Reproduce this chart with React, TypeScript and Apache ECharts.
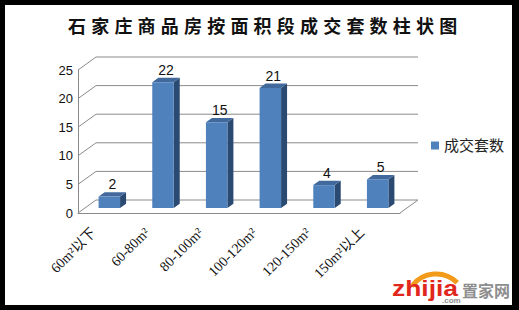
import React, { useEffect, useRef } from "react";
import * as echarts from "echarts";

const titleText = "石家庄商品房按面积段成交套数柱状图";
const seriesName = "成交套数";
const categories = ["60m²以下", "60-80m²", "80-100m²", "100-120m²", "120-150m²", "150m²以上"];
const counts = [2, 22, 15, 21, 4, 5];
const yTicks = [0, 5, 10, 15, 20, 25];

// oblique depth of the 3D plot box (front plane -> back wall)
const DEPTH_X = 18;
const DEPTH_Y = -13;
// column placement inside the depth
const COL_OFF_X = 4.5;
const COL_OFF_Y = -5;
const COL_DEPTH_X = 6;
const COL_DEPTH_Y = -4.3;

const FRONT = "#4F81BD";
const SIDE = "#2B4A72";
const TOP = "#41699C";
const GRIDLINE = "#8A8A8A";

export default function App() {
  const ref = useRef<HTMLDivElement>(null);

  useEffect(() => {
    document.body.style.margin = "0";
    if (!ref.current) return;
    const chart = echarts.init(ref.current, null, { renderer: "svg" });

    const option: any = {
      animation: false,
      backgroundColor: "#ffffff",
      title: {
        text: titleText,
        left: 63,
        top: 13,
        textStyle: {
          fontFamily: "'Liberation Serif', 'Noto Sans CJK SC', serif",
          fontSize: 18,
          fontWeight: "bold",
          color: "#111",
        },
      },
      legend: {
        data: [seriesName],
        left: 426,
        top: 133,
        icon: "rect",
        itemWidth: 8,
        itemHeight: 8,
        textStyle: {
          fontFamily: "'Liberation Serif', 'Noto Sans CJK SC', serif",
          fontSize: 15,
          color: "#222",
        },
      },
      grid: { left: 78, top: 70, width: 322, height: 143 },
      xAxis: {
        type: "category",
        data: categories,
        boundaryGap: true,
        axisLine: { show: true, lineStyle: { color: GRIDLINE, width: 1 } },
        axisTick: { show: false },
        splitLine: { show: false },
        axisLabel: {
          rotate: 45,
          margin: 6,
          padding: [0, 16, 0, 0],
          interval: 0,
          fontFamily: "'Liberation Serif', 'Noto Sans CJK SC', serif",
          fontSize: 14,
          color: "#111",
        },
      },
      yAxis: {
        type: "value",
        min: 0,
        max: 25,
        interval: 5,
        axisLine: { show: true, lineStyle: { color: GRIDLINE, width: 1 } },
        axisTick: { show: false },
        splitLine: { show: false },
        axisLabel: {
          margin: 5,
          fontFamily: "'Liberation Sans', Arial, sans-serif",
          fontSize: 13,
          color: "#111",
        },
      },
      series: [
        {
          type: "custom",
          name: "walls",
          silent: true,
          z: 1,
          data: yTicks.map((v) => [0, v]),
          renderItem: (params: any, api: any) => {
            const v = api.value(1);
            const y = api.coord([0, v])[1];
            const cs = params.coordSys;
            const x0 = cs.x;
            const x1 = cs.x + cs.width;
            const children: any[] = [
              {
                type: "polyline",
                shape: {
                  points: [
                    [x0, y],
                    [x0 + DEPTH_X, y + DEPTH_Y],
                    [x1 + DEPTH_X, y + DEPTH_Y],
                  ],
                },
                style: { stroke: GRIDLINE, lineWidth: 1, fill: "none" },
              },
            ];
            if (v === 0) {
              children.push({
                type: "line",
                shape: { x1: x1, y1: y, x2: x1 + DEPTH_X, y2: y + DEPTH_Y },
                style: { stroke: GRIDLINE, lineWidth: 1 },
              });
            }
            return { type: "group", children };
          },
        },
        {
          type: "custom",
          name: seriesName,
          z: 3,
          itemStyle: { color: FRONT },
          data: counts.map((v, i) => [i, v]),
          encode: { x: 0, y: 1 },
          renderItem: (params: any, api: any) => {
            const i = api.value(0);
            const v = api.value(1);
            const top = api.coord([i, v]);
            const base = api.coord([i, 0]);
            const band = api.size([1, 0])[0];
            const w = band * 0.4;
            const xl = top[0] - w / 2 + COL_OFF_X;
            const xr = xl + w;
            const yt = top[1] + COL_OFF_Y;
            const yb = base[1] + COL_OFF_Y;
            return {
              type: "group",
              children: [
                {
                  type: "polygon",
                  shape: {
                    points: [
                      [xr, yt],
                      [xr + COL_DEPTH_X, yt + COL_DEPTH_Y],
                      [xr + COL_DEPTH_X, yb + COL_DEPTH_Y],
                      [xr, yb],
                    ],
                  },
                  style: { fill: SIDE },
                },
                {
                  type: "polygon",
                  shape: {
                    points: [
                      [xl, yt],
                      [xl + COL_DEPTH_X, yt + COL_DEPTH_Y],
                      [xr + COL_DEPTH_X, yt + COL_DEPTH_Y],
                      [xr, yt],
                    ],
                  },
                  style: { fill: TOP },
                },
                {
                  type: "rect",
                  shape: { x: xl, y: yt, width: w, height: yb - yt },
                  style: { fill: FRONT },
                },
                {
                  type: "text",
                  x: (xl + xr) / 2 + COL_DEPTH_X / 2,
                  y: yt + COL_DEPTH_Y - 1,
                  style: {
                    text: String(v),
                    align: "center",
                    verticalAlign: "bottom",
                    fontFamily: "'Liberation Sans', Arial, sans-serif",
                    fontSize: 14,
                    fill: "#111",
                  },
                },
              ],
            };
          },
        },
      ],
      graphic: [
        // black frame
        { type: "rect", shape: { x: 0, y: 0, width: 519, height: 5 }, style: { fill: "#000" } },
        { type: "rect", shape: { x: 0, y: 305, width: 519, height: 5 }, style: { fill: "#000" } },
        { type: "rect", shape: { x: 0, y: 0, width: 5, height: 310 }, style: { fill: "#000" } },
        { type: "rect", shape: { x: 512, y: 0, width: 7, height: 310 }, style: { fill: "#000" } },
        // site mark
        {
          type: "arc",
          shape: { cx: 436, cy: 304, r: 30, startAngle: Math.PI * 1.2, endAngle: Math.PI * 1.75 },
          style: { stroke: "#F39A1B", lineWidth: 5, fill: "none" },
        },
        {
          type: "text",
          x: 392,
          y: 299,
          scaleX: 1.2,
          style: {
            text: "zhijia",
            fontFamily: "'Liberation Sans', Arial, sans-serif",
            fontWeight: "bold",
            fontSize: 22,
            fill: "#E1261C",
            verticalAlign: "bottom",
          },
        },
        {
          type: "text",
          x: 462,
          y: 298,
          style: {
            text: "置家网",
            fontFamily: "'Noto Sans CJK SC', sans-serif",
            fontWeight: "bold",
            fontSize: 16,
            fill: "#8E8E8E",
            verticalAlign: "bottom",
          },
        },
        {
          type: "text",
          x: 442,
          y: 304,
          style: {
            text: ".com",
            fontFamily: "'Liberation Sans', Arial, sans-serif",
            fontWeight: "bold",
            fontSize: 8,
            fill: "#8E8E8E",
            verticalAlign: "bottom",
          },
        },
      ],
    };

    chart.setOption(option);

    // widen the title's character spacing
    const texts = ref.current.querySelectorAll("text");
    texts.forEach((t) => {
      if (t.textContent === titleText) {
        t.setAttribute("letter-spacing", "5.2");
      }
    });

    return () => chart.dispose();
  }, []);

  return <div ref={ref} style={{ width: 519, height: 310 }} />;
}
